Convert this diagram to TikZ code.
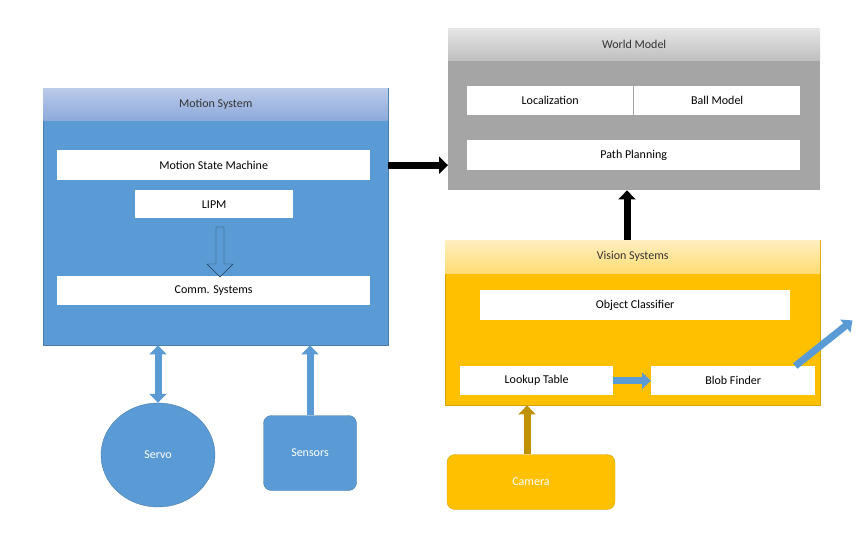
\documentclass[tikz,border=0pt]{standalone}
\usepackage{fontspec}
\setmainfont{Carlito}
\usetikzlibrary{arrows.meta,shapes.geometric,shapes.arrows,positioning}
\definecolor{blueC}{HTML}{5B9BD5}
\definecolor{blueH}{HTML}{8EA9DB}
\definecolor{grayC}{HTML}{A5A5A5}
\definecolor{goldC}{HTML}{FFC000}
\definecolor{goldD}{HTML}{BF9000}
\tikzset{
  bar/.style={fill=white,draw=none,inner sep=0pt,font=\fontsize{12}{14}\selectfont,anchor=north west},
  head/.style={inner sep=0pt,font=\fontsize{12}{14}\selectfont,anchor=north west},
  fat/.style={line width=7pt,-{Triangle[width=17pt,length=9pt]}},
}
\begin{document}
\begin{tikzpicture}[x=1pt,y=-1pt]
  \useasboundingbox (0,0) rectangle (861,533);
  % Motion system
  \node[fill=blueC,draw=blueC!80!black,line width=0.4pt,minimum width=345pt,minimum height=257pt,anchor=north west,inner sep=0pt] (motion) at (43,88) {};
  \node[head,top color=blueH!60,bottom color=blueH,minimum width=345pt,minimum height=32pt,text=black!80] (motionh) at (43,88) {Motion System};
  \node[bar,minimum width=313pt,minimum height=30pt] (msm) at (57,150) {Motion State Machine};
  \node[bar,minimum width=158pt,minimum height=28pt] (lipm) at (135,190) {LIPM};
  \node[bar,minimum width=313pt,minimum height=29pt] (comm) at (57,276) {Comm. Systems};
  \node[single arrow,draw=blueC!40!black,fill=blueC,rotate=-90,minimum height=50pt,minimum width=26pt,single arrow head extend=5pt,inner sep=2pt] (down) at (220,250) {};
  % Servo and sensors
  \node[ellipse,fill=blueC,draw=blueC!80!black,minimum width=114pt,minimum height=104pt,text=white,font=\fontsize{12}{14}\selectfont] (servo) at (158,455) {Servo};
  \node[rounded corners=8pt,fill=blueC,draw=blueC!80!black,minimum width=93pt,minimum height=75pt,text=white,font=\fontsize{12}{14}\selectfont] (sensors) at (310,453) {Sensors};
  \draw[line width=7pt,blueC,{Triangle[width=17pt,length=9pt]}-{Triangle[width=17pt,length=9pt]}] (servo.north) -- (servo.north |- motion.south);
  \draw[fat,blueC] (sensors.north) -- (sensors.north |- motion.south);
  % World model
  \node[fill=grayC,minimum width=372pt,minimum height=162pt,anchor=north west,inner sep=0pt] (world) at (448,28) {};
  \node[head,top color=black!10,bottom color=black!25,minimum width=372pt,minimum height=32pt,text=black!80] (worldh) at (448,28) {World Model};
  \node[bar,minimum width=166pt,minimum height=29pt] (loc) at (467,86) {Localization};
  \node[bar,minimum width=166pt,minimum height=29pt] (ball) at (634,86) {Ball Model};
  \node[bar,minimum width=333pt,minimum height=30pt] (path) at (467,140) {Path Planning};
  \draw[fat,black] (motion.east |- msm) -- (world.west |- msm);
  % Vision systems
  \node[fill=goldC,draw=goldC!85!black,minimum width=375pt,minimum height=165pt,anchor=north west,inner sep=0pt] (vision) at (445,240) {};
  \node[head,top color=goldC!25,bottom color=goldC!55,minimum width=375pt,minimum height=33pt,text=black!80] (visionh) at (445,240) {Vision Systems};
  \node[bar,minimum width=310pt,minimum height=30pt] (obj) at (480,290) {Object Classifier};
  \node[bar,minimum width=153pt,minimum height=29pt] (lut) at (460,366) {Lookup Table};
  \node[bar,minimum width=164pt,minimum height=29pt] (blob) at (651,366) {Blob Finder};
  \draw[line width=7pt,-{Triangle[width=16pt,length=9pt]},blueC] (lut.east) -- (blob.west);
  \draw[line width=7pt,-{Triangle[width=16pt,length=9pt]},blueC] ([xshift=62pt]blob.north) -- ([xshift=62pt]obj.south east |- obj.south);
  \draw[fat,black] (vision.north -| 627,0) -- (world.south -| 627,0);
  % Camera
  \node[rounded corners=8pt,fill=goldC,draw=goldC!85!black,minimum width=168pt,minimum height=55pt,text=white,font=\fontsize{12}{14}\selectfont] (camera) at (531,482) {Camera};
  \draw[fat,goldD] (camera.north -| 527,0) -- (vision.south -| 527,0);
\end{tikzpicture}
\end{document}
